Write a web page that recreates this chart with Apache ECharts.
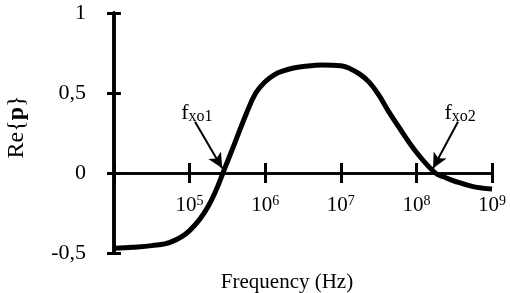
<!DOCTYPE html>
<html>
<head>
<meta charset="utf-8">
<script src="https://cdn.jsdelivr.net/npm/echarts@6/dist/echarts.min.js"></script>
<style>
html,body{margin:0;padding:0;background:#fff;}
#c{width:510px;height:293px;}
</style>
</head>
<body>
<div id="c"></div>
<script>
// Data
const frequencies = [1e4, 1.78e4, 3.16e4, 5.62e4, 1e5, 1.78e5, 3.16e5, 5.62e5, 7.5e5, 1e6, 1.33e6, 1.78e6,
  2.37e6, 3.16e6, 5.62e6, 1e7, 1.33e7, 1.78e7, 2.37e7, 3.16e7, 4.22e7, 5.62e7, 1e8, 1.78e8, 2.37e8,
  3.16e8, 5.62e8, 1e9];
const reP = [-0.47, -0.464, -0.454, -0.432, -0.36, -0.205, 0.07, 0.37, 0.5, 0.57, 0.615, 0.64,
  0.656, 0.665, 0.675, 0.671, 0.652, 0.618, 0.568, 0.49, 0.39, 0.3, 0.13, 0, -0.027,
  -0.05, -0.085, -0.1];
const yTicks = [-0.5, 0, 0.5, 1];
const xTickExponents = [5, 6, 7, 8, 9];
const annotations = [
  {name: 'xo1', text: [1.25e5, 0.375], from: [1.18e5, 0.32], to: [2.7e5, 0.03]},
  {name: 'xo2', text: [3.78e8, 0.375], from: [3.55e8, 0.32], to: [1.66e8, 0.03]}
];

const FONT = 'Liberation Serif';
const chart = echarts.init(document.getElementById('c'), null, {renderer: 'canvas'});
const seriesData = frequencies.map((f, i) => [f, reP[i]]);

const GRID = {left: 114, right: 18, top: 13, bottom: 40};
const PLOT_H = 293 - GRID.top - GRID.bottom;
// x axis drawn at y = 0 (shift up from the grid bottom by the share of the range below zero)
const X_OFFSET = -PLOT_H * (0 - yTicks[0]) / (yTicks[yTicks.length - 1] - yTicks[0]);

const xBase = {
  type: 'log', logBase: 10, min: 1e4, max: 1e9, position: 'bottom', offset: X_OFFSET,
  splitLine: {show: false}
};
const yBase = {
  type: 'value', min: yTicks[0], max: yTicks[yTicks.length - 1], interval: 0.5,
  position: 'left', splitLine: {show: false}
};

chart.setOption({
  animation: false,
  backgroundColor: '#fff',
  grid: Object.assign({containLabel: false, outerBoundsMode: 'none'}, GRID),
  xAxis: [
    Object.assign({}, xBase, {
      name: 'Frequency (Hz)', nameLocation: 'middle', nameGap: 99,
      nameTextStyle: {fontFamily: FONT, fontSize: 21, color: '#000', padding: [0, 32, 0, 0]},
      axisLine: {show: true, onZero: false, lineStyle: {color: '#000', width: 2.5}},
      axisTick: {show: true, inside: false, length: 10, lineStyle: {color: '#000', width: 3}},
      axisLabel: {
        show: true, margin: 21, color: '#000', fontFamily: FONT, fontSize: 21,
        formatter: function (v) {
          const e = Math.round(Math.log10(v));
          if (xTickExponents.indexOf(e) < 0) return '';
          return '{b|10}{s|' + e + '}';
        },
        rich: {
          b: {fontFamily: FONT, fontSize: 21, color: '#000'},
          s: {fontFamily: FONT, fontSize: 14, color: '#000', padding: [0, 0, 9, 0]}
        }
      }
    }),
    Object.assign({}, xBase, {
      axisLine: {show: true, onZero: false, lineStyle: {color: '#000', width: 2.5}},
      axisTick: {show: true, inside: true, length: 10, lineStyle: {color: '#000', width: 3}},
      axisLabel: {show: false}
    })
  ],
  yAxis: [
    Object.assign({}, yBase, {
      name: 'Re{{bp|p}}', nameLocation: 'middle', nameGap: 85, nameRotate: 90,
      nameTextStyle: {
        fontFamily: FONT, fontSize: 24, color: '#000', padding: [0, 0, 0, 12],
        rich: {bp: {fontFamily: FONT, fontSize: 24, fontWeight: 'bold', color: '#000'}}
      },
      axisLine: {show: true, onZero: false, lineStyle: {color: '#000', width: 3.5}},
      axisTick: {show: true, inside: false, length: 7, lineStyle: {color: '#000', width: 3}},
      axisLabel: {
        show: true, margin: 28, color: '#000', fontFamily: FONT, fontSize: 22,
        formatter: v => String(v).replace('.', ',')
      }
    }),
    Object.assign({}, yBase, {
      axisLine: {show: true, onZero: false, lineStyle: {color: '#000', width: 3.5}},
      axisTick: {show: true, inside: true, length: 7, lineStyle: {color: '#000', width: 3}},
      axisLabel: {show: false}
    })
  ],
  series: [{
    type: 'line', xAxisIndex: 0, yAxisIndex: 0,
    data: seriesData, smooth: 0.4, showSymbol: false, symbol: 'none',
    lineStyle: {color: '#000', width: 5},
    markLine: {
      silent: true, animation: false,
      symbol: ['none', 'arrow'], symbolSize: [11, 15],
      lineStyle: {color: '#000', width: 2, type: 'solid'},
      label: {show: false},
      data: annotations.map(a => [{coord: a.from}, {coord: a.to}])
    },
    markPoint: {
      silent: true, animation: false,
      symbol: 'circle', symbolSize: 1, itemStyle: {color: 'rgba(0,0,0,0)'},
      label: {
        show: true, position: 'inside', color: '#000', fontFamily: FONT,
        formatter: function (p) { return '{f|f}{s|' + p.name + '}'; },
        rich: {
          f: {fontFamily: FONT, fontSize: 22, color: '#000'},
          s: {fontFamily: FONT, fontSize: 16, color: '#000', padding: [8, 0, 0, 0]}
        }
      },
      data: annotations.map(a => ({name: a.name, coord: a.text}))
    }
  }]
});
</script>
</body>
</html>
